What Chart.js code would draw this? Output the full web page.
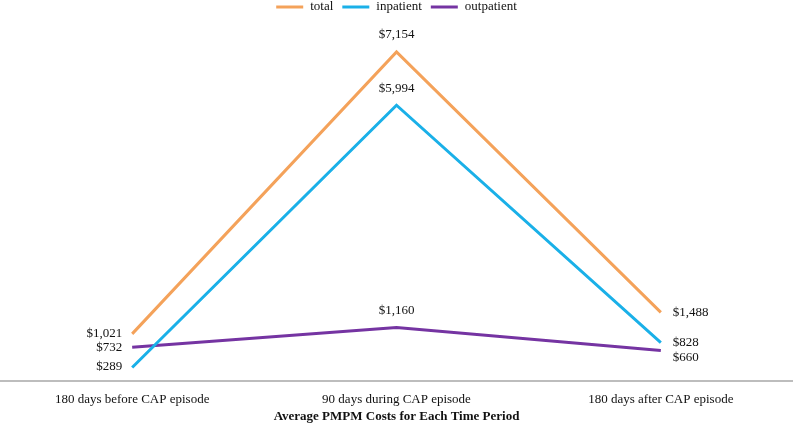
<!DOCTYPE html>
<html>
<head>
<meta charset="utf-8">
<script src="https://cdn.jsdelivr.net/npm/chart.js@4"></script>
<style>
html,body{margin:0;padding:0;background:#fff;}
#wrap{width:793px;height:424px;position:relative;}
</style>
</head>
<body>
<div id="wrap"><canvas id="c"></canvas></div>
<script>
const categories = ["180 days before CAP episode", "90 days during CAP episode", "180 days after CAP episode"];
const totalValues = [1021, 7154, 1488];
const inpatientValues = [289, 5994, 828];
const outpatientValues = [732, 1160, 660];
const seriesNames = ["total", "inpatient", "outpatient"];
const xTitle = "Average PMPM Costs for Each Time Period";

const SERIF = "'Liberation Serif', 'Times New Roman', serif";
const colors = ["#F4A25A", "#1AB0E8", "#7534A2"];

const labelPlugin = {
  id: 'valueLabels',
  afterDatasetsDraw(chart) {
    const ctx = chart.ctx;
    ctx.save();
    ctx.font = "13px " + SERIF;
    ctx.fillStyle = "#111";
    chart.data.datasets.forEach((ds, di) => {
      const meta = chart.getDatasetMeta(di);
      meta.data.forEach((pt, i) => {
        const txt = "$" + ds.data[i].toLocaleString("en-US");
        let x = pt.x, y = pt.y;
        ctx.textBaseline = "middle";
        if (i === 0) {
          ctx.textAlign = "right";
          x -= 10;
          if (di === 1) y -= 1;
        } else if (i === 1) {
          ctx.textAlign = "center";
          y -= 17;
        } else {
          ctx.textAlign = "left";
          x += 12;
          if (di === 2) y += 7;
        }
        ctx.fillText(txt, x, y);
      });
    });
    ctx.restore();
  }
};

const legendPlugin = {
  id: 'customLegend',
  afterDraw(chart) {
    const ctx = chart.ctx;
    ctx.save();
    ctx.font = "13px " + SERIF;
    ctx.textBaseline = "middle";
    ctx.textAlign = "left";
    const lineW = 27, gap1 = 7, gap2 = 9;
    const items = chart.data.datasets.map(ds => ({ label: ds.label, color: ds.borderColor, w: ctx.measureText(ds.label).width }));
    let total = 0;
    items.forEach((it, i) => { total += lineW + gap1 + it.w + (i < items.length - 1 ? gap2 : 0); });
    let x = (chart.width - total) / 2;
    const y = 7;
    items.forEach(it => {
      ctx.strokeStyle = it.color;
      ctx.lineWidth = 3;
      ctx.beginPath();
      ctx.moveTo(x, y);
      ctx.lineTo(x + lineW, y);
      ctx.stroke();
      x += lineW + gap1;
      ctx.fillStyle = "#111";
      ctx.fillText(it.label, x, y);
      x += it.w + gap2;
    });
    ctx.restore();
  }
};

const seriesData = [totalValues, inpatientValues, outpatientValues];
new Chart(document.getElementById('c'), {
  type: 'line',
  data: {
    labels: categories,
    datasets: seriesData.map((d, i) => ({
      label: seriesNames[i],
      data: d,
      borderColor: colors[i],
      backgroundColor: colors[i],
      borderWidth: 3,
      pointRadius: 0,
      tension: 0,
      fill: false
    }))
  },
  options: {
    responsive: true,
    maintainAspectRatio: false,
    animation: false,
    layout: { padding: { left: 0, right: 0, top: 13, bottom: 0 } },
    plugins: {
      legend: { display: false },
      tooltip: { enabled: false }
    },
    scales: {
      x: {
        offset: true,
        grid: { display: false, drawTicks: false },
        border: { display: true, color: "#BDBDBD", width: 2 },
        ticks: { font: { family: SERIF, size: 13 }, color: "#111", padding: 11, maxRotation: 0 },
        title: { display: true, text: xTitle, font: { family: SERIF, size: 13, weight: 'bold' }, color: "#111", padding: { top: -10, bottom: 0 } }
      },
      y: {
        display: false,
        min: 0,
        max: 8000
      }
    }
  },
  plugins: [labelPlugin, legendPlugin]
});
</script>
</body>
</html>
